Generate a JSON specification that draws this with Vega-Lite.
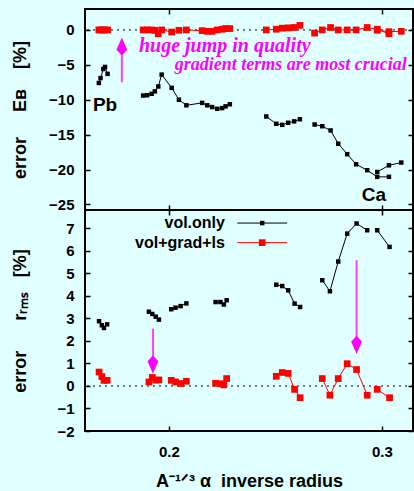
{
  "$schema": "https://vega.github.io/schema/vega-lite/v6.json",
  "padding": {"left": 9, "top": 7, "right": 0, "bottom": 0},
  "background": "#e0ffff",
  "bounds": "flush",
  "spacing": 0,
  "config": {
    "view": {"stroke": "black", "strokeWidth": 2},
    "font": "Liberation Sans",
    "axis": {
      "grid": false, "domain": false,
      "labelFont": "Liberation Sans", "labelFontWeight": "bold", "labelFontSize": 15, "labelColor": "black",
      "titleFont": "Liberation Sans", "titleFontWeight": "bold", "titleFontSize": 18, "titleColor": "black",
      "tickColor": "black", "tickWidth": 1.5, "tickSize": -5, "labelOverlap": false, "labelFlush": false
    }
  },
  "datasets": {
    "eb": [
      {"x":0.1671,"y":-7.6,"s":"vol.only","g":1},{"x":0.1679,"y":-6.9,"s":"vol.only","g":1},{"x":0.1692,"y":-5.6,"s":"vol.only","g":1},{"x":0.1700,"y":-5.3,"s":"vol.only","g":1},{"x":0.1712,"y":-6.3,"s":"vol.only","g":1},
      {"x":0.1879,"y":-9.4,"s":"vol.only","g":2},{"x":0.1898,"y":-9.35,"s":"vol.only","g":2},{"x":0.1919,"y":-9.15,"s":"vol.only","g":2},{"x":0.1934,"y":-8.8,"s":"vol.only","g":2},{"x":0.1950,"y":-8.1,"s":"vol.only","g":2},{"x":0.1966,"y":-6.4,"s":"vol.only","g":2},{"x":0.2013,"y":-8.3,"s":"vol.only","g":2},{"x":0.2047,"y":-10.0,"s":"vol.only","g":2},{"x":0.2082,"y":-10.8,"s":"vol.only","g":2},{"x":0.2156,"y":-10.45,"s":"vol.only","g":2},{"x":0.2180,"y":-10.8,"s":"vol.only","g":2},{"x":0.2203,"y":-11.05,"s":"vol.only","g":2},{"x":0.2227,"y":-11.3,"s":"vol.only","g":2},{"x":0.2250,"y":-11.2,"s":"vol.only","g":2},{"x":0.2266,"y":-10.95,"s":"vol.only","g":2},{"x":0.2286,"y":-10.65,"s":"vol.only","g":2},
      {"x":0.2457,"y":-12.4,"s":"vol.only","g":3},{"x":0.2504,"y":-13.45,"s":"vol.only","g":3},{"x":0.2532,"y":-13.6,"s":"vol.only","g":3},{"x":0.2560,"y":-13.3,"s":"vol.only","g":3},{"x":0.2588,"y":-13.1,"s":"vol.only","g":3},{"x":0.2615,"y":-12.8,"s":"vol.only","g":3},
      {"x":0.2684,"y":-13.55,"s":"vol.only","g":4},{"x":0.2720,"y":-13.8,"s":"vol.only","g":4},{"x":0.2759,"y":-14.4,"s":"vol.only","g":4},{"x":0.2795,"y":-16.3,"s":"vol.only","g":4},{"x":0.2837,"y":-17.8,"s":"vol.only","g":4},{"x":0.2879,"y":-19.25,"s":"vol.only","g":4},{"x":0.2931,"y":-20.1,"s":"vol.only","g":4},{"x":0.2978,"y":-21.05,"s":"vol.only","g":4},{"x":0.3033,"y":-21.05,"s":"vol.only","g":4},
      {"x":0.2978,"y":-20.35,"s":"vol.only","g":5},{"x":0.3033,"y":-19.4,"s":"vol.only","g":5},{"x":0.3091,"y":-19.0,"s":"vol.only","g":5},
      {"x":0.1671,"y":0,"s":"vol+grad+ls","g":1},{"x":0.1679,"y":0,"s":"vol+grad+ls","g":1},{"x":0.1692,"y":0,"s":"vol+grad+ls","g":1},{"x":0.1700,"y":0,"s":"vol+grad+ls","g":1},{"x":0.1712,"y":0,"s":"vol+grad+ls","g":1},
      {"x":0.1879,"y":0,"s":"vol+grad+ls","g":2},{"x":0.1898,"y":0,"s":"vol+grad+ls","g":2},{"x":0.1919,"y":0,"s":"vol+grad+ls","g":2},{"x":0.1934,"y":-0.05,"s":"vol+grad+ls","g":2},{"x":0.1950,"y":-0.55,"s":"vol+grad+ls","g":2},{"x":0.1966,"y":0,"s":"vol+grad+ls","g":2},{"x":0.2013,"y":-0.3,"s":"vol+grad+ls","g":2},{"x":0.2047,"y":-0.05,"s":"vol+grad+ls","g":2},{"x":0.2082,"y":0,"s":"vol+grad+ls","g":2},{"x":0.2156,"y":-0.1,"s":"vol+grad+ls","g":2},{"x":0.2180,"y":-0.2,"s":"vol+grad+ls","g":2},{"x":0.2203,"y":-0.2,"s":"vol+grad+ls","g":2},{"x":0.2227,"y":0,"s":"vol+grad+ls","g":2},{"x":0.2250,"y":0.1,"s":"vol+grad+ls","g":2},{"x":0.2266,"y":0.2,"s":"vol+grad+ls","g":2},{"x":0.2286,"y":0.2,"s":"vol+grad+ls","g":2},
      {"x":0.2457,"y":0,"s":"vol+grad+ls","g":3},{"x":0.2504,"y":0.1,"s":"vol+grad+ls","g":3},{"x":0.2532,"y":0.25,"s":"vol+grad+ls","g":3},{"x":0.2560,"y":0.3,"s":"vol+grad+ls","g":3},{"x":0.2588,"y":0.35,"s":"vol+grad+ls","g":3},{"x":0.2615,"y":0.65,"s":"vol+grad+ls","g":3},
      {"x":0.2684,"y":-0.45,"s":"vol+grad+ls","g":4},{"x":0.2720,"y":0,"s":"vol+grad+ls","g":4},{"x":0.2759,"y":0.35,"s":"vol+grad+ls","g":4},{"x":0.2795,"y":0,"s":"vol+grad+ls","g":4},{"x":0.2837,"y":0,"s":"vol+grad+ls","g":4},{"x":0.2879,"y":0,"s":"vol+grad+ls","g":4},{"x":0.2931,"y":0.35,"s":"vol+grad+ls","g":4},{"x":0.2978,"y":0.1,"s":"vol+grad+ls","g":4},{"x":0.3033,"y":-0.55,"s":"vol+grad+ls","g":4},
      {"x":0.2978,"y":-0.05,"s":"vol+grad+ls","g":5},{"x":0.3033,"y":-0.25,"s":"vol+grad+ls","g":5},{"x":0.3091,"y":-0.2,"s":"vol+grad+ls","g":5}
    ],
    "rr": [
      {"x":0.1672,"y":2.88,"s":"vol.only","g":1},{"x":0.1685,"y":2.7,"s":"vol.only","g":1},{"x":0.1695,"y":2.58,"s":"vol.only","g":1},{"x":0.1710,"y":2.74,"s":"vol.only","g":1},
      {"x":0.1906,"y":3.3,"s":"vol.only","g":2},{"x":0.1922,"y":3.2,"s":"vol.only","g":2},{"x":0.1938,"y":3.08,"s":"vol.only","g":2},{"x":0.1953,"y":2.95,"s":"vol.only","g":2},
      {"x":0.2011,"y":3.41,"s":"vol.only","g":3},{"x":0.2031,"y":3.48,"s":"vol.only","g":3},{"x":0.2055,"y":3.55,"s":"vol.only","g":3},{"x":0.2082,"y":3.67,"s":"vol.only","g":3},
      {"x":0.2219,"y":3.73,"s":"vol.only","g":4},{"x":0.2242,"y":3.73,"s":"vol.only","g":4},{"x":0.2258,"y":3.62,"s":"vol.only","g":4},{"x":0.2271,"y":3.81,"s":"vol.only","g":4},
      {"x":0.2504,"y":4.5,"s":"vol.only","g":5},{"x":0.2532,"y":4.44,"s":"vol.only","g":5},{"x":0.2560,"y":4.25,"s":"vol.only","g":5},{"x":0.2590,"y":3.66,"s":"vol.only","g":5},{"x":0.2616,"y":3.51,"s":"vol.only","g":5},
      {"x":0.2720,"y":4.7,"s":"vol.only","g":6},{"x":0.2756,"y":4.21,"s":"vol.only","g":6},{"x":0.2795,"y":5.53,"s":"vol.only","g":6},{"x":0.2837,"y":6.77,"s":"vol.only","g":6},{"x":0.2881,"y":7.22,"s":"vol.only","g":6},{"x":0.2931,"y":6.92,"s":"vol.only","g":6},
      {"x":0.2978,"y":6.92,"s":"vol.only","g":7},{"x":0.3036,"y":6.18,"s":"vol.only","g":7},
      {"x":0.1672,"y":0.62,"s":"vol+grad+ls","g":1},{"x":0.1685,"y":0.42,"s":"vol+grad+ls","g":1},{"x":0.1695,"y":0.25,"s":"vol+grad+ls","g":1},{"x":0.1710,"y":0.25,"s":"vol+grad+ls","g":1},
      {"x":0.1906,"y":0.18,"s":"vol+grad+ls","g":2},{"x":0.1922,"y":0.38,"s":"vol+grad+ls","g":2},{"x":0.1938,"y":0.26,"s":"vol+grad+ls","g":2},{"x":0.1953,"y":0.27,"s":"vol+grad+ls","g":2},
      {"x":0.2011,"y":0.25,"s":"vol+grad+ls","g":3},{"x":0.2031,"y":0.18,"s":"vol+grad+ls","g":3},{"x":0.2055,"y":0.11,"s":"vol+grad+ls","g":3},{"x":0.2082,"y":0.21,"s":"vol+grad+ls","g":3},
      {"x":0.2219,"y":0.12,"s":"vol+grad+ls","g":4},{"x":0.2242,"y":0.1,"s":"vol+grad+ls","g":4},{"x":0.2258,"y":0.05,"s":"vol+grad+ls","g":4},{"x":0.2271,"y":0.33,"s":"vol+grad+ls","g":4},
      {"x":0.2504,"y":0.43,"s":"vol+grad+ls","g":5},{"x":0.2532,"y":0.6,"s":"vol+grad+ls","g":5},{"x":0.2560,"y":0.56,"s":"vol+grad+ls","g":5},{"x":0.2590,"y":-0.15,"s":"vol+grad+ls","g":5},{"x":0.2616,"y":-0.52,"s":"vol+grad+ls","g":5},
      {"x":0.2720,"y":0.33,"s":"vol+grad+ls","g":6},{"x":0.2756,"y":-0.41,"s":"vol+grad+ls","g":6},{"x":0.2795,"y":0.33,"s":"vol+grad+ls","g":6},{"x":0.2837,"y":0.99,"s":"vol+grad+ls","g":6},{"x":0.2881,"y":0.73,"s":"vol+grad+ls","g":6},{"x":0.2931,"y":-0.41,"s":"vol+grad+ls","g":6},
      {"x":0.2978,"y":-0.15,"s":"vol+grad+ls","g":7},{"x":0.3036,"y":-0.52,"s":"vol+grad+ls","g":7}
    ],
    "tlab": [
      {"t":"Pb","x":0.1700,"y":-10.74},
      {"t":"Ca","x":0.2962,"y":-23.67}
    ],
    "tnote": [
      {"t":"huge jump in quality","x":0.1859,"y":-3.1,"a":"left"},
      {"t":"gradient terms are most crucial","x":0.3117,"y":-5.75,"a":"right"}
    ],
    "arrT": [{"x":0.1779,"y":-7.5,"y2":-2.6,"hy":-2.39}],
    "arrB": [
      {"x":0.1925,"y":2.55,"y2":1.2,"hy":0.96},
      {"x":0.2881,"y":5.59,"y2":2.0,"hy":1.83}
    ],
    "leg": [
      {"s":"vol.only","y":7.24,"tx":0.2263,"x1":0.2321,"x2":0.2555,"xm":0.2438},
      {"s":"vol+grad+ls","y":6.37,"tx":0.2263,"x1":0.2321,"x2":0.2555,"xm":0.2438}
    ]
  },
  "vconcat": [
    {
      "width": 328, "height": 201,
      "resolve": {"axis": {"x": "independent", "y": "independent"}},
      "layer": [
        {
          "data": {"values": [{"y": 0}]},
          "mark": {"type": "rule", "color": "black", "strokeWidth": 1, "strokeDash": [2, 4]},
          "encoding": {"y": {"field": "y", "type": "quantitative", "scale": {"domain": [-25.8, 3.0], "nice": false, "zero": false}, "axis": null}}
        },
        {
          "data": {"name": "eb"},
          "mark": {"type": "line", "strokeWidth": 1},
          "encoding": {
            "x": {"field": "x", "type": "quantitative", "scale": {"domain": [0.1606, 0.3146], "nice": false, "zero": false},
                  "axis": {"orient": "bottom", "values": [0.2, 0.3], "labels": false, "title": null}},
            "y": {"field": "y", "type": "quantitative", "scale": {"domain": [-25.8, 3.0], "nice": false, "zero": false},
                  "axis": {"orient": "left", "values": [-25, -20, -15, -10, -5, 0], "format": "d", "labelPadding": 16,
                           "title": "error\u00a0\u00a0\u00a0\u00a0\u00a0Eʙ\u00a0\u00a0\u00a0\u00a0[%]", "titleX": -65, "titleBaseline": "middle", "titleAlign": "center"}},
            "color": {"field": "s", "type": "nominal", "scale": {"domain": ["vol.only", "vol+grad+ls"], "range": ["#000000", "#ff0000"]}, "legend": null},
            "detail": {"field": "g"}
          }
        },
        {
          "data": {"name": "eb"},
          "mark": {"type": "point", "shape": "square", "filled": true, "opacity": 1},
          "encoding": {
            "x": {"field": "x", "type": "quantitative", "scale": {"domain": [0.1606, 0.3146], "nice": false, "zero": false},
                  "axis": {"orient": "top", "values": [0.2, 0.3], "labels": false, "title": null}},
            "y": {"field": "y", "type": "quantitative", "scale": {"domain": [-25.8, 3.0], "nice": false, "zero": false},
                  "axis": {"orient": "right", "values": [-25, -20, -15, -10, -5, 0], "labels": false, "title": null}},
            "color": {"field": "s", "type": "nominal", "scale": {"domain": ["vol.only", "vol+grad+ls"], "range": ["#000000", "#ff0000"]}, "legend": null},
            "size": {"field": "s", "type": "nominal", "scale": {"domain": ["vol.only", "vol+grad+ls"], "range": [20, 45]}, "legend": null}
          }
        },
        {
          "data": {"name": "arrT"},
          "mark": {"type": "rule", "color": "#ff40ff", "strokeWidth": 2},
          "encoding": {
            "x": {"field": "x", "type": "quantitative", "axis": null},
            "y": {"field": "y", "type": "quantitative", "axis": null},
            "y2": {"field": "y2"}
          }
        },
        {
          "data": {"name": "arrT"},
          "mark": {"type": "point", "shape": "M0,-1L0.6,0.35L0,1L-0.6,0.35Z", "filled": true, "color": "#ff00ff", "opacity": 1, "size": 324},
          "encoding": {
            "x": {"field": "x", "type": "quantitative", "axis": null},
            "y": {"field": "hy", "type": "quantitative", "axis": null}
          }
        },
        {
          "data": {"name": "tlab"},
          "mark": {"type": "text", "font": "Liberation Sans", "fontWeight": "bold", "fontSize": 19, "color": "black", "align": "center", "baseline": "middle"},
          "encoding": {
            "x": {"field": "x", "type": "quantitative", "axis": null},
            "y": {"field": "y", "type": "quantitative", "axis": null},
            "text": {"field": "t"}
          }
        },
        {
          "data": {"name": "tnote"},
          "transform": [{"filter": "datum.a == 'left'"}],
          "mark": {"type": "text", "font": "Liberation Serif", "fontWeight": "bold", "fontStyle": "italic", "fontSize": 20, "color": "#ff00ff", "align": "left", "baseline": "alphabetic"},
          "encoding": {
            "x": {"field": "x", "type": "quantitative", "axis": null},
            "y": {"field": "y", "type": "quantitative", "axis": null},
            "text": {"field": "t"}
          }
        },
        {
          "data": {"name": "tnote"},
          "transform": [{"filter": "datum.a == 'right'"}],
          "mark": {"type": "text", "font": "Liberation Serif", "fontWeight": "bold", "fontStyle": "italic", "fontSize": 18, "color": "#ff00ff", "align": "right", "baseline": "alphabetic"},
          "encoding": {
            "x": {"field": "x", "type": "quantitative", "axis": null},
            "y": {"field": "y", "type": "quantitative", "axis": null},
            "text": {"field": "t"}
          }
        }
      ]
    },
    {
      "width": 328, "height": 221,
      "resolve": {"axis": {"x": "independent", "y": "independent"}},
      "layer": [
        {
          "data": {"values": [{"y": 0}]},
          "mark": {"type": "rule", "color": "black", "strokeWidth": 1, "strokeDash": [2, 4]},
          "encoding": {"y": {"field": "y", "type": "quantitative", "scale": {"domain": [-2, 7.82], "nice": false, "zero": false}, "axis": null}}
        },
        {
          "data": {"name": "rr"},
          "mark": {"type": "line", "strokeWidth": 1},
          "encoding": {
            "x": {"field": "x", "type": "quantitative", "scale": {"domain": [0.1606, 0.3146], "nice": false, "zero": false},
                  "axis": {"orient": "bottom", "values": [0.2, 0.3], "format": ".1f", "labelPadding": 25, "labelBaseline": "middle",
                           "title": "A⁻¹ᐟ³ α\u00a0\u00a0inverse radius", "titleY": 50, "titleBaseline": "middle", "titleFontSize": 18}},
            "y": {"field": "y", "type": "quantitative", "scale": {"domain": [-2, 7.82], "nice": false, "zero": false},
                  "axis": {"orient": "left", "values": [-2, -1, 0, 1, 2, 3, 4, 5, 6, 7], "format": "d", "labelPadding": 16,
                           "title": "error\u00a0\u00a0\u00a0\u00a0\u00a0\u00a0rᵣₘₛ\u00a0\u00a0\u00a0[%]", "titleX": -65, "titleBaseline": "middle", "titleAlign": "center"}},
            "color": {"field": "s", "type": "nominal", "scale": {"domain": ["vol.only", "vol+grad+ls"], "range": ["#000000", "#ff0000"]}, "legend": null},
            "detail": {"field": "g"}
          }
        },
        {
          "data": {"name": "rr"},
          "mark": {"type": "point", "shape": "square", "filled": true, "opacity": 1},
          "encoding": {
            "x": {"field": "x", "type": "quantitative", "scale": {"domain": [0.1606, 0.3146], "nice": false, "zero": false},
                  "axis": {"orient": "top", "values": [0.2, 0.3], "labels": false, "title": null}},
            "y": {"field": "y", "type": "quantitative", "scale": {"domain": [-2, 7.82], "nice": false, "zero": false},
                  "axis": {"orient": "right", "values": [-2, -1, 0, 1, 2, 3, 4, 5, 6, 7], "labels": false, "title": null}},
            "color": {"field": "s", "type": "nominal", "scale": {"domain": ["vol.only", "vol+grad+ls"], "range": ["#000000", "#ff0000"]}, "legend": null},
            "size": {"field": "s", "type": "nominal", "scale": {"domain": ["vol.only", "vol+grad+ls"], "range": [20, 45]}, "legend": null}
          }
        },
        {
          "data": {"name": "arrB"},
          "mark": {"type": "rule", "color": "#ff40ff", "strokeWidth": 2},
          "encoding": {
            "x": {"field": "x", "type": "quantitative", "axis": null},
            "y": {"field": "y", "type": "quantitative", "axis": null},
            "y2": {"field": "y2"}
          }
        },
        {
          "data": {"name": "arrB"},
          "mark": {"type": "point", "shape": "M0,1L0.6,-0.35L0,-1L-0.6,-0.35Z", "filled": true, "color": "#ff00ff", "opacity": 1, "size": 324},
          "encoding": {
            "x": {"field": "x", "type": "quantitative", "axis": null},
            "y": {"field": "hy", "type": "quantitative", "axis": null}
          }
        },
        {
          "data": {"name": "leg"},
          "mark": {"type": "rule", "strokeWidth": 1},
          "encoding": {
            "x": {"field": "x1", "type": "quantitative", "axis": null},
            "x2": {"field": "x2"},
            "y": {"field": "y", "type": "quantitative", "axis": null},
            "color": {"field": "s", "type": "nominal", "scale": {"domain": ["vol.only", "vol+grad+ls"], "range": ["#000000", "#ff0000"]}, "legend": null}
          }
        },
        {
          "data": {"name": "leg"},
          "mark": {"type": "point", "shape": "square", "filled": true, "opacity": 1},
          "encoding": {
            "x": {"field": "xm", "type": "quantitative", "axis": null},
            "y": {"field": "y", "type": "quantitative", "axis": null},
            "color": {"field": "s", "type": "nominal", "scale": {"domain": ["vol.only", "vol+grad+ls"], "range": ["#000000", "#ff0000"]}, "legend": null},
            "size": {"field": "s", "type": "nominal", "scale": {"domain": ["vol.only", "vol+grad+ls"], "range": [20, 45]}, "legend": null}
          }
        },
        {
          "data": {"name": "leg"},
          "mark": {"type": "text", "font": "Liberation Sans", "fontWeight": "bold", "fontSize": 16, "color": "black", "align": "right", "baseline": "middle"},
          "encoding": {
            "x": {"field": "tx", "type": "quantitative", "axis": null},
            "y": {"field": "y", "type": "quantitative", "axis": null},
            "text": {"field": "s"}
          }
        }
      ]
    }
  ]
}
